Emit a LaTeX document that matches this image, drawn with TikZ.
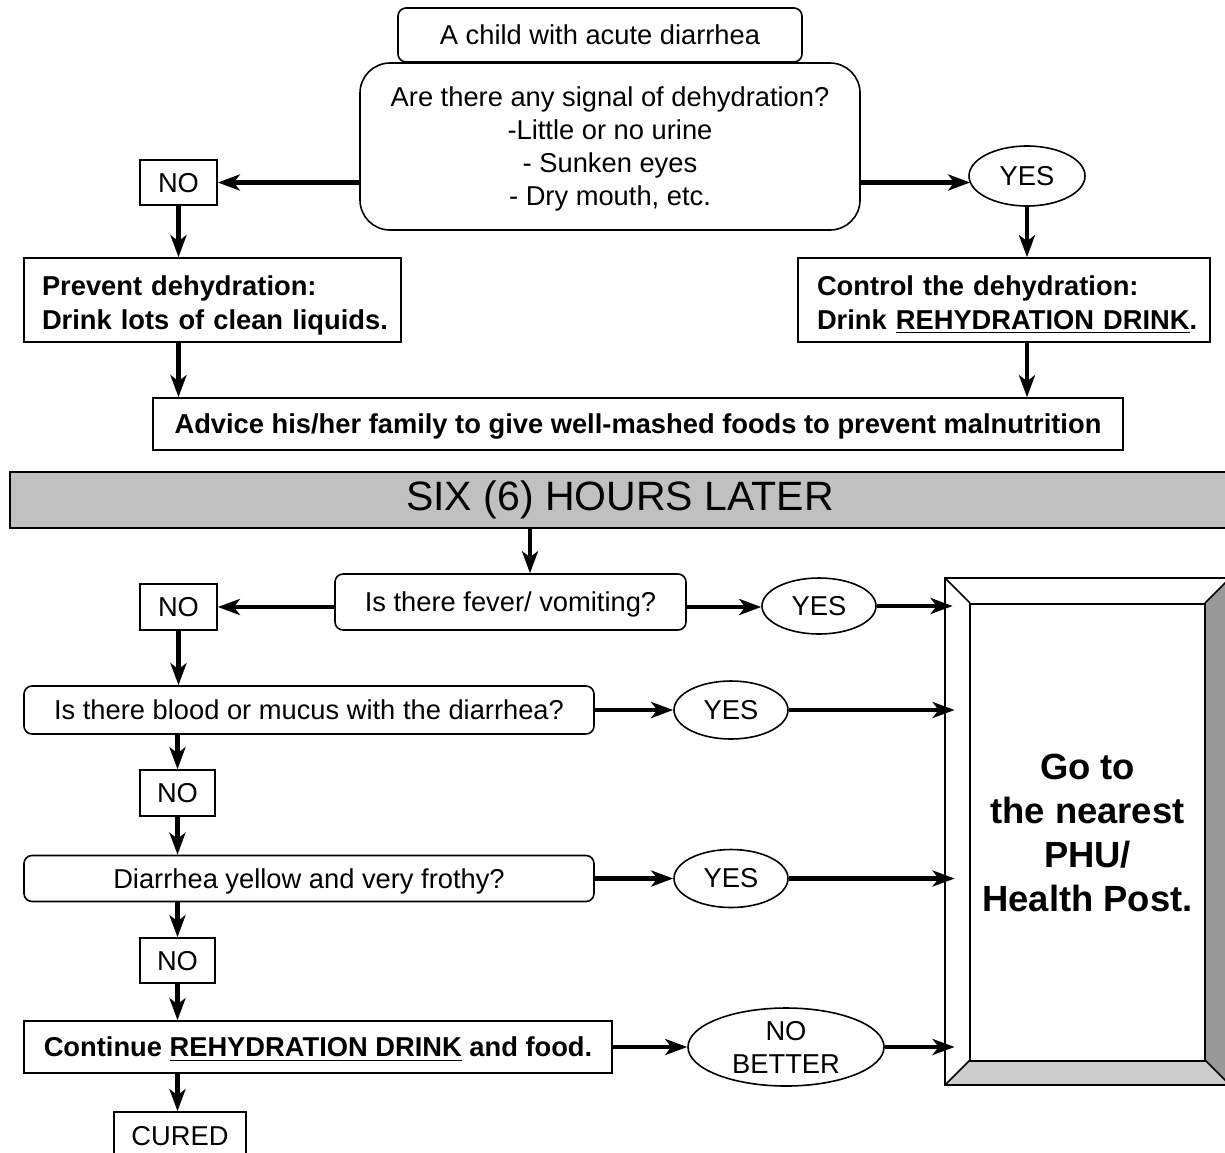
\documentclass[tikz,border=0pt]{standalone}
\usepackage{fontspec}
\setmainfont{Liberation Sans}
\usetikzlibrary{shapes.geometric,arrows.meta,calc}
\definecolor{bandgray}{HTML}{C0C0C0}
\definecolor{bevdark}{HTML}{999999}
\definecolor{bevlight}{HTML}{CCCCCC}
\begin{document}
\begin{tikzpicture}[x=0.5pt,y=-0.5pt,
  every node/.style={font=\fontsize{13.65}{16.5}\selectfont, inner sep=0pt},
  bx/.style={draw, line width=0.8pt, fill=white, align=center, text depth=0pt},
  rbx/.style={bx, rounded corners=4pt},
  lbx/.style={draw, line width=0.8pt, fill=white, align=left, text height=14.9pt},
  ell/.style={draw, line width=0.8pt, ellipse, fill=white, align=center, inner sep=0pt},
  bld/.style={font=\fontsize{13.65}{17}\selectfont\bfseries},
  arr/.style={line width=2.2pt, -{Stealth[length=11pt,width=8pt,inset=3pt]}}
]
\useasboundingbox (0,0) rectangle (1225,1152);
\clip (0,0) rectangle (1225,1152);

% top part
\node[rbx, minimum width=202pt, minimum height=27pt] (child) at (600,35) {A child with acute diarrhea};
\node[bx, rounded corners=15pt, minimum width=250pt, minimum height=83.5pt] (sig) at (610,146.5)
  {Are there any signal of dehydration?\\-Little or no urine\\- Sunken eyes\\- Dry mouth, etc.};
\node[bx, minimum width=38.5pt, minimum height=22.5pt] (no1) at (178.5,182.5) {NO};
\node[ell, minimum width=58pt, minimum height=30pt] (yes1) at (1027,176) {YES};
\node[lbx, bld, text width=170.5pt, inner xsep=9pt, minimum height=42pt] (prev) at (212.5,300)
  {\mbox{Prevent dehydration:}\\\mbox{Drink lots of clean liquids.}};
\node[lbx, bld, text width=187pt, inner xsep=9.5pt, minimum height=42pt] (ctrl) at (1004,300)
  {\mbox{Control the dehydration:}\\\mbox{Drink \underline{REHYDRATION DRINK}.}};
\node[bx, bld, minimum width=485pt, minimum height=26pt] (adv) at (638,424)
  {Advice his/her family to give well-mashed foods to prevent malnutrition};

\draw[arr] (sig.west |- no1) -- (no1.east);
\draw[arr] (sig.east |- no1) -- ([xshift=1pt]yes1.west |- no1);
\draw[arr] (no1.south) -- (no1.south |- prev.north);
\draw[arr] (yes1.south) -- (yes1.south |- ctrl.north);
\draw[arr] (prev.south -| no1) -- (adv.north -| no1);
\draw[arr] (ctrl.south -| yes1) -- (adv.north -| yes1);

% band
\node[draw, line width=0.8pt, fill=bandgray, minimum width=610pt, minimum height=28pt,
  font=\fontsize{20.5}{24}\selectfont] (band) at (620,500) {SIX (6) HOURS LATER};

% big bevelled box
\coordinate (O1) at (945,578); \coordinate (O2) at (1230,578);
\coordinate (O3) at (1230,1085); \coordinate (O4) at (945,1085);
\coordinate (I1) at (970,603); \coordinate (I2) at (1205,603);
\coordinate (I3) at (1205,1060); \coordinate (I4) at (970,1060);
\fill[white] (O1) -- (O2) -- (O3) -- (O4) -- cycle;
\fill[bevdark] (I2) -- (O2) -- (O3) -- (I3) -- cycle;
\fill[bevlight] (I4) -- (I3) -- (O3) -- (O4) -- cycle;
\draw[line width=0.8pt] (O1) -- (O2) -- (O3) -- (O4) -- cycle;
\draw[line width=0.8pt] (O1) -- (I1) (O2) -- (I2) (O3) -- (I3) (O4) -- (I4);
\node[draw, line width=0.8pt, minimum width=117.5pt, minimum height=228.5pt, align=center,
  font=\fontsize{18.2}{22}\selectfont\bfseries] (go) at (1087.5,832.5)
  {Go to\\the nearest\\PHU/\\Health Post.};
\node[minimum width=142.5pt, minimum height=253.5pt] (gobox) at (1087.5,831.5) {};

% lower part
\node[rbx, minimum width=175.5pt, minimum height=28pt] (fever) at (510.5,602) {Is there fever/ vomiting?};
\node[bx, minimum width=38.5pt, minimum height=23pt] (no2) at (178.5,607) {NO};
\node[ell, minimum width=57pt, minimum height=28pt] (yes2) at (819,606) {YES};
\node[rbx, minimum width=285pt, minimum height=24pt] (blood) at (309,710) {Is there blood or mucus with the diarrhea?};
\node[ell, minimum width=57pt, minimum height=29pt] (yes3) at (731,710) {YES};
\node[bx, minimum width=37.5pt, minimum height=23pt] (no3) at (177.5,793) {NO};
\node[rbx, minimum width=285pt, minimum height=23pt] (frothy) at (309,878.5) {Diarrhea yellow and very frothy?};
\node[ell, minimum width=57pt, minimum height=29pt] (yes4) at (731,878.5) {YES};
\node[bx, minimum width=37.5pt, minimum height=22.5pt] (no4) at (177.5,960.5) {NO};
\node[bx, bld, minimum width=294pt, minimum height=26pt] (cont) at (318,1047) {Continue \underline{REHYDRATION DRINK} and food.};
\node[ell, minimum width=98pt, minimum height=39pt] (nobet) at (786,1047) {NO\\BETTER};
\node[bx, minimum width=66pt, minimum height=24pt] (cured) at (180,1136) {CURED};

\coordinate (bandout) at (530,528);
\draw[arr] (bandout) -- (bandout |- fever.north);
\draw[arr] (fever.west |- no2) -- (no2.east);
\draw[arr] (fever.east |- no2) -- (yes2.west |- no2);
\draw[arr, shorten >=-4pt] (yes2.east) -- (yes2 -| gobox.west);
\draw[arr] (no2.south) -- (no2.south |- blood.north);
\draw[arr] (blood.east) -- (yes3.west);
\draw[arr, shorten >=-5pt] (yes3.east) -- (yes3 -| gobox.west);
\draw[arr] (blood.south -| no3) -- (no3.north);
\draw[arr] (no3.south) -- (no3.south |- frothy.north);
\draw[arr] (frothy.east) -- (yes4.west);
\draw[arr, shorten >=-5pt] (yes4.east) -- (yes4 -| gobox.west);
\draw[arr] (frothy.south -| no4) -- (no4.north);
\draw[arr] (no4.south) -- (no4.south |- cont.north);
\draw[arr] (cont.east) -- (nobet.west);
\draw[arr, shorten >=-5pt] (nobet.east) -- (nobet -| gobox.west);
\draw[arr] (cont.south -| no4) -- (cured.north -| no4);
\end{tikzpicture}
\end{document}
